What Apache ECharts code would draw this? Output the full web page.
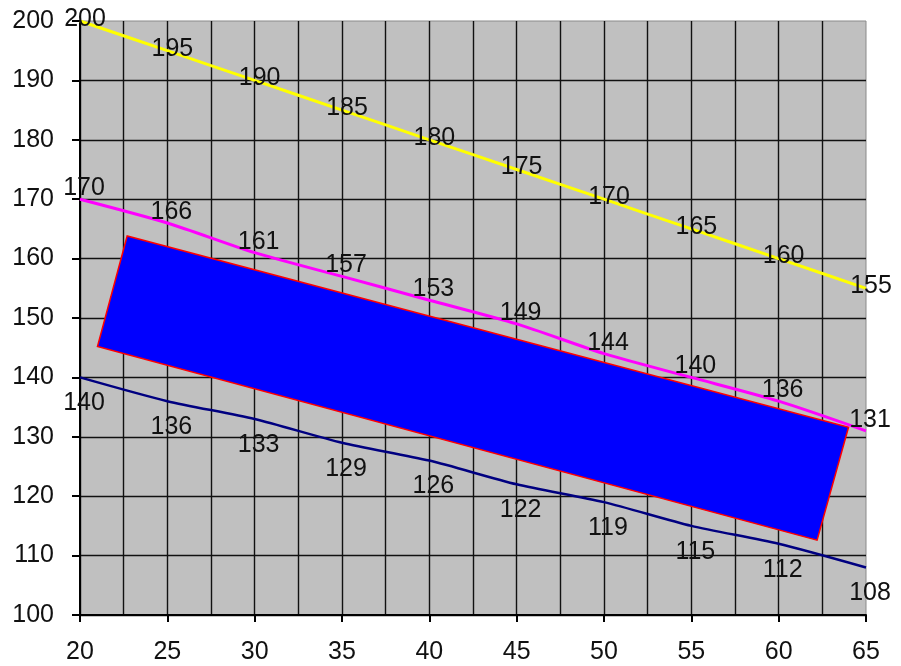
<!DOCTYPE html>
<html>
<head>
<meta charset="utf-8">
<script src="https://cdn.jsdelivr.net/npm/echarts@6/dist/echarts.min.js"></script>
<style>html,body{margin:0;padding:0;background:#fff}#c{width:901px;height:666px}</style>
</head>
<body>
<div id="c"></div>
<script>
var xValues = [20, 25, 30, 35, 40, 45, 50, 55, 60, 65];
var yellowValues = [200, 195, 190, 185, 180, 175, 170, 165, 160, 155];
var magentaValues = [170, 166, 161, 157, 153, 149, 144, 140, 136, 131];
var navyValues = [140, 136, 133, 129, 126, 122, 119, 115, 112, 108];
var rectX = [22.7, 21.0, 62.2, 64.0];
var rectY = [163.8, 145.2, 112.6, 131.6];

function pairs(xs, ys) { return xs.map(function (x, i) { return [x, ys[i]]; }); }

var font = 'Liberation Sans, Arial, sans-serif';
var chart = echarts.init(document.getElementById('c'));

function lineSeries(name, vals, color, width, offset) {
  return {
    name: name, type: 'line', data: pairs(xValues, vals), smooth: 0.25,
    symbol: 'circle', symbolSize: 1, showSymbol: true,
    itemStyle: { color: 'rgba(0,0,0,0)' },
    lineStyle: { color: color, width: width },
    label: { show: true, position: 'inside', offset: offset, color: '#111',
      fontSize: 25, fontFamily: font, formatter: function (p) { return p.data[1]; } },
    emphasis: { disabled: true }, z: 3
  };
}

chart.setOption({
  animation: false,
  grid: { left: 80, top: 21, right: 35, bottom: 51, show: true,
    backgroundColor: '#C0C0C0', borderColor: '#8a8a8a', borderWidth: 1 },
  xAxis: {
    type: 'value', min: 20, max: 65, interval: 5,
    axisLine: { show: true, onZero: false, lineStyle: { color: '#000', width: 2 } },
    axisTick: { show: true, length: 7, lineStyle: { color: '#000', width: 2 } },
    axisLabel: { margin: 25, fontSize: 25, color: '#111', fontFamily: font },
    splitLine: { show: true, showMaxLine: false, lineStyle: { color: '#111', width: 1.4 } },
    minorTick: { show: false, splitNumber: 2 },
    minorSplitLine: { show: true, lineStyle: { color: '#111', width: 1.4 } }
  },
  yAxis: {
    type: 'value', min: 100, max: 200, interval: 10,
    axisLine: { show: true, onZero: false, lineStyle: { color: '#000', width: 2 } },
    axisTick: { show: true, length: 8, lineStyle: { color: '#000', width: 2 } },
    axisLabel: { margin: 26, fontSize: 25, color: '#111', fontFamily: font },
    splitLine: { show: true, showMaxLine: false, lineStyle: { color: '#111', width: 1.4 } }
  },
  series: [
    {
      type: 'custom', data: pairs(rectX, rectY), z: 2, silent: true,
      renderItem: function (params, api) {
        if (params.dataIndex !== 0) return null;
        var pts = rectX.map(function (x, i) { return api.coord([x, rectY[i]]); });
        return { type: 'polygon', shape: { points: pts },
          style: { fill: '#0000FF', stroke: '#FF0000', lineWidth: 1.5 } };
      }
    },
    lineSeries('yellow', yellowValues, '#FFFF00', 3, [5, -2]),
    lineSeries('magenta', magentaValues, '#FF00FF', 3, [4, -11]),
    lineSeries('navy', navyValues, '#000080', 2.5, [4, 26])
  ]
});
</script>
</body>
</html>
